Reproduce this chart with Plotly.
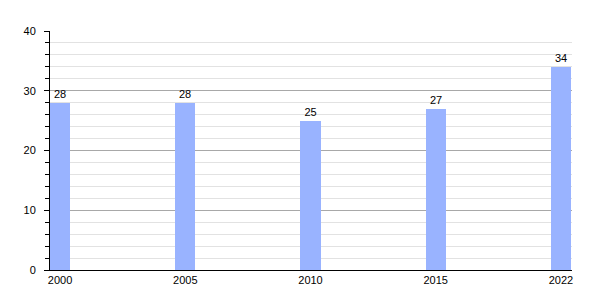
import plotly.graph_objects as go

years = ["2000", "2005", "2010", "2015", "2022"]
values = [28, 28, 25, 27, 34]

fig = go.Figure()
fig.add_trace(go.Bar(
    x=years, y=values, width=0.16,
    marker=dict(color="#99B3FF", line=dict(width=0)),
    text=[str(v) for v in values], textposition="outside",
    textfont=dict(size=11, color="black"), cliponaxis=False,
))
fig.update_layout(
    width=600, height=300,
    margin=dict(l=50, r=28, t=31, b=30),
    paper_bgcolor="white", plot_bgcolor="white",
    font=dict(family="Liberation Sans, Arial, sans-serif", size=11, color="black"),
    showlegend=False,
    bargap=0,
)
fig.update_xaxes(
    type="category", range=[-0.08, 4.088],
    showline=True, linecolor="black", linewidth=1,
    ticks="", showgrid=False, ticklabelstandoff=0,
)
fig.update_yaxes(
    range=[0, 40], dtick=10,
    showline=True, linecolor="black", linewidth=1,
    ticks="outside", ticklen=5, tickcolor="black",
    showgrid=True, gridcolor="#A8A8A8", gridwidth=1,
    zeroline=False,
    minor=dict(dtick=2, showgrid=True, gridcolor="#E2E2E2", ticks="outside", ticklen=4, tickcolor="black"),
    ticklabelstandoff=6,
)
fig.write_html("out.html")
